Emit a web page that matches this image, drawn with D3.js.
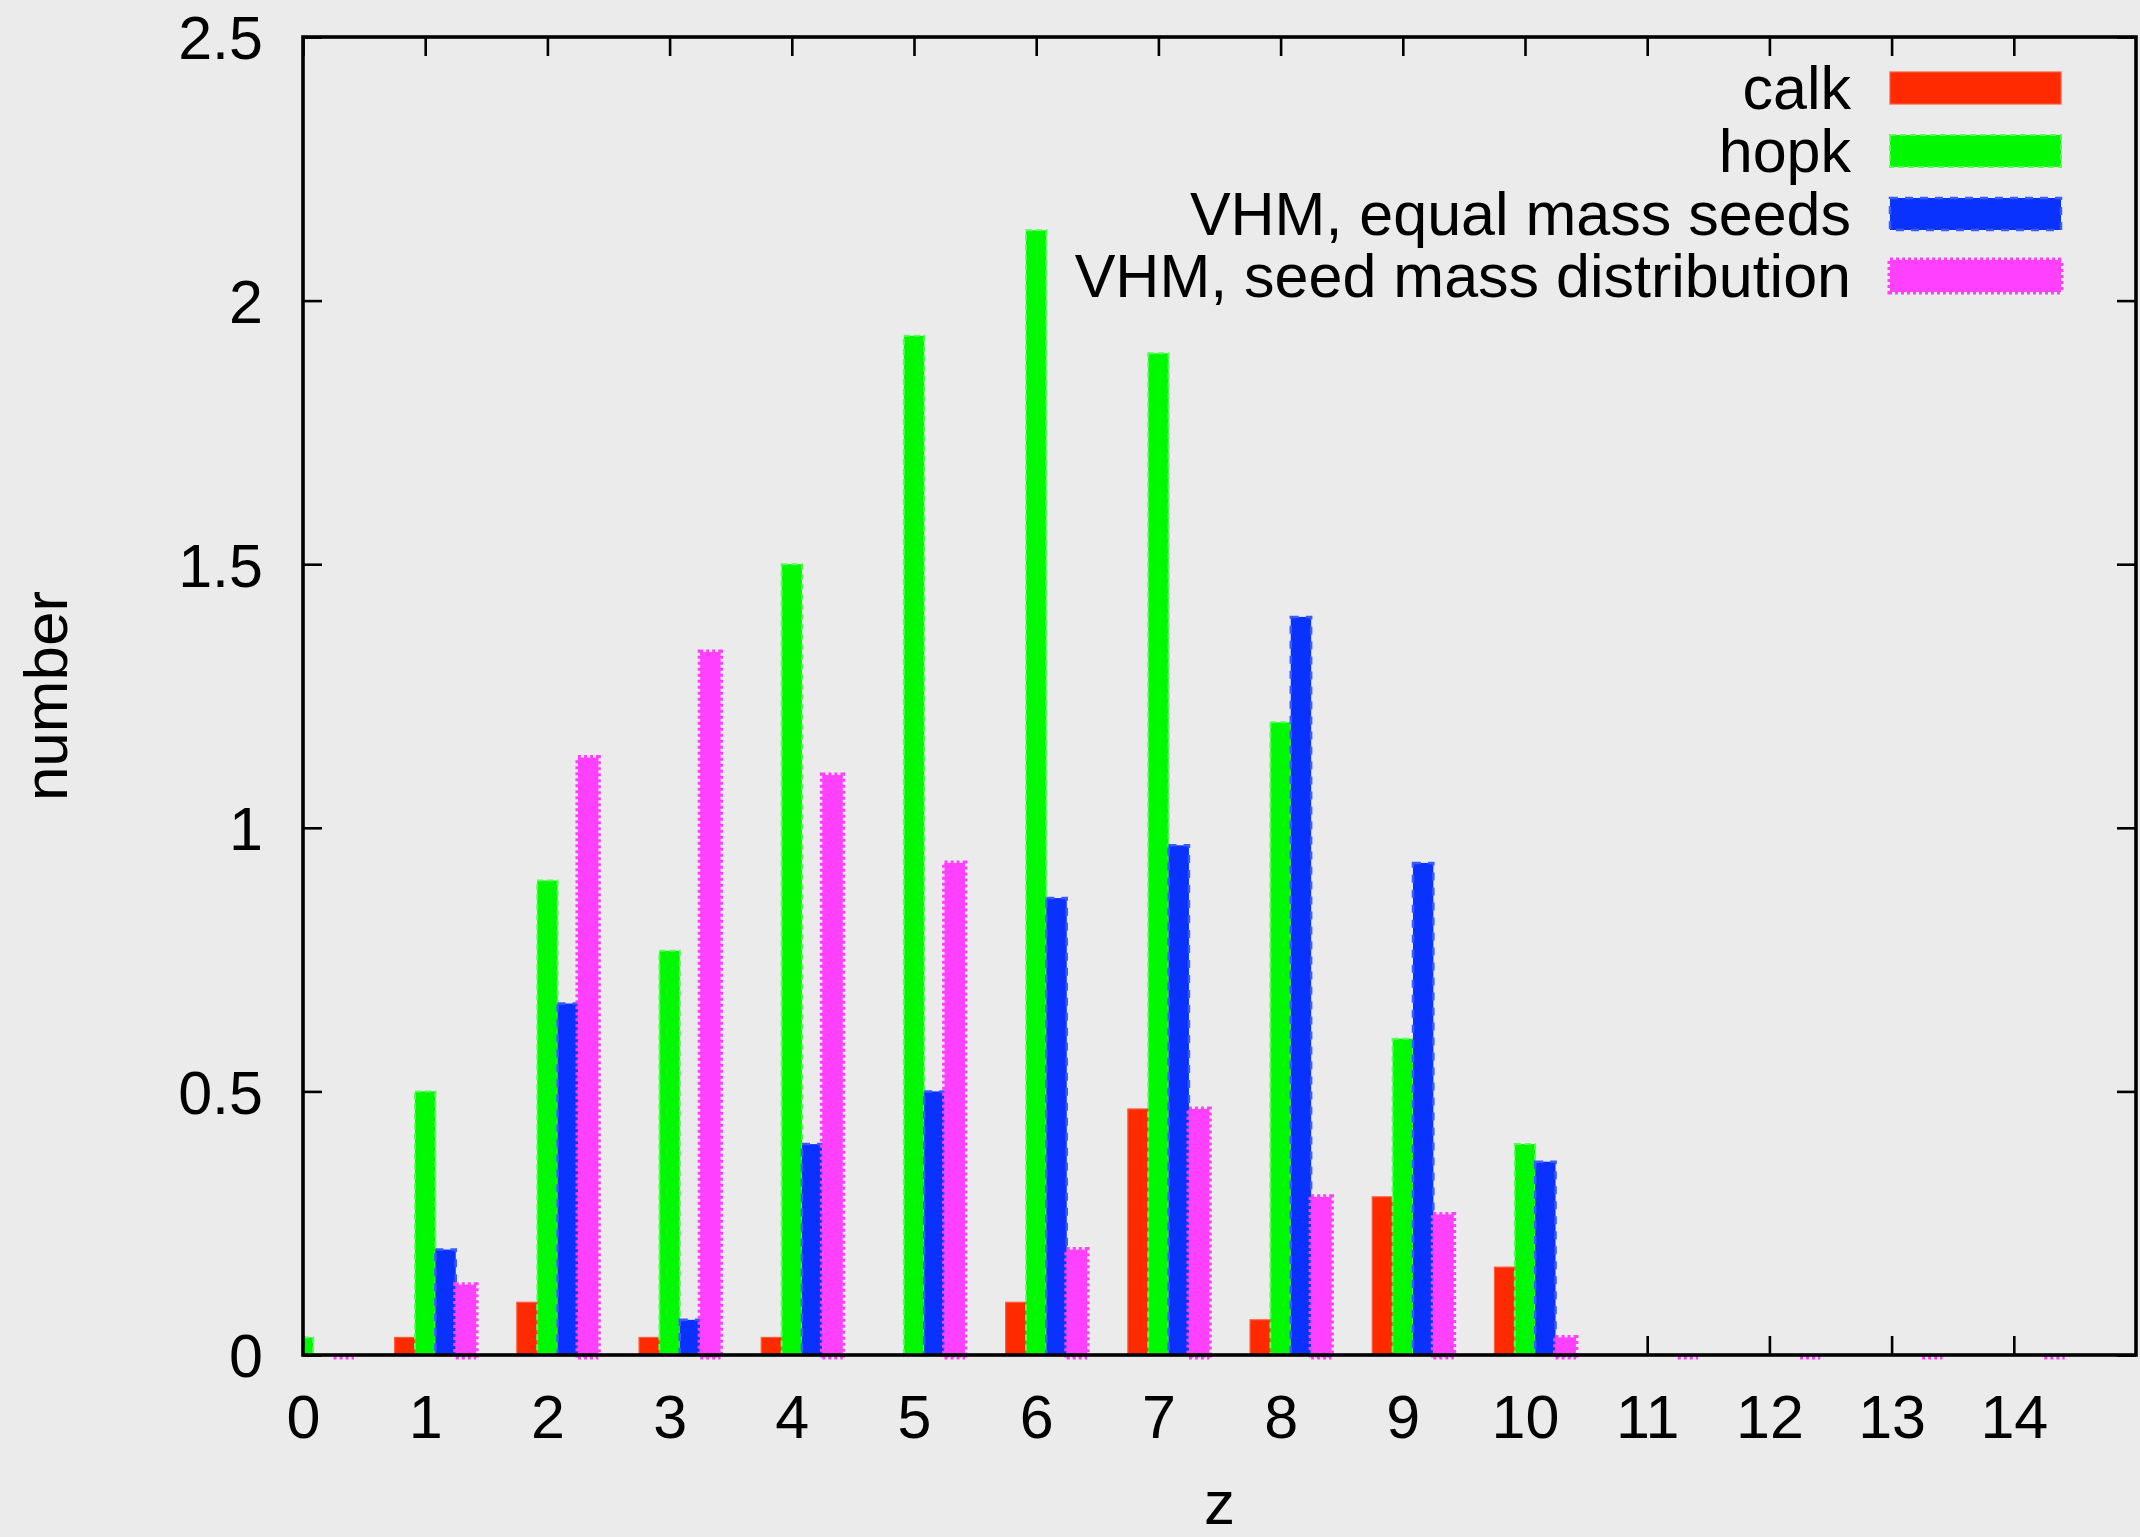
<!DOCTYPE html>
<html>
<head>
<meta charset="utf-8">
<script src="https://cdn.jsdelivr.net/npm/d3@7"></script>
<style>
  html, body { margin: 0; padding: 0; background: #ebebeb; }
  svg { display: block; }
  text { font-family: "Liberation Sans", Arial, Helvetica, sans-serif; fill: #000; }
</style>
</head>
<body>
<svg id="chart" width="2140" height="1537"></svg>
<script>
// ---- data ----
const zValues = [0, 1, 2, 3, 4, 5, 6, 7, 8, 9, 10, 11, 12, 13, 14];
const calk     = [0, 0.0333, 0.1, 0.0333, 0.0333, 0, 0.1, 0.4667, 0.0667, 0.3, 0.1667, 0, 0, 0, 0];
const hopk     = [0.0333, 0.5, 0.9, 0.7667, 1.5, 1.9333, 2.1333, 1.9, 1.2, 0.6, 0.4, 0, 0, 0, 0];
const vhmEqual = [0, 0.2, 0.6667, 0.0667, 0.4, 0.5, 0.8667, 0.9667, 1.4, 0.9333, 0.3667, 0, 0, 0, 0];
const vhmSeed  = [0, 0.1333, 1.1333, 1.3333, 1.1, 0.9333, 0.2, 0.4667, 0.3, 0.2667, 0.0333, 0, 0, 0, 0];
const seriesNames = ["calk", "hopk", "VHM, equal mass seeds", "VHM, seed mass distribution"];
const xTickValues = [0, 1, 2, 3, 4, 5, 6, 7, 8, 9, 10, 11, 12, 13, 14];
const yTickValues = [0, 0.5, 1, 1.5, 2, 2.5];
const xLabel = "z";
const yLabel = "number";

// ---- layout / style ----
const L = 303, R = 2136, T = 37, B = 1355;
const styles = [
  { fill: "#ff2a00", stroke: "#ff5a3a", sw: 1.2, dash: null },
  { fill: "#00f800", stroke: "#55ff55", sw: 2, dash: "6,4" },
  { fill: "#0a32ff", stroke: "#3a5cff", sw: 2.5, dash: "8,7" },
  { fill: "#ff40ff", stroke: "#ff40ff", sw: 5, dash: "3,3" }
];
const offsets = [-0.25, -1/12, 1/12, 0.25];   // left edge of each bar relative to z
const barW = 1/6;

const svg = d3.select("#chart");
const x = d3.scaleLinear().domain([0, 15]).range([L, R]);
const y = d3.scaleLinear().domain([0, 2.5]).range([B, T]);

const fmtY = d => d3.format("")(d);

// axes (ticks inward)
const gx = svg.append("g").attr("transform", `translate(0,${B})`)
  .call(d3.axisBottom(x).tickValues(xTickValues).tickSize(-19).tickPadding(40).tickFormat(d3.format("d")));
const gxt = svg.append("g").attr("transform", `translate(0,${T})`)
  .call(d3.axisTop(x).tickValues(xTickValues).tickSize(-19).tickFormat(""));
const gy = svg.append("g").attr("transform", `translate(${L},0)`)
  .call(d3.axisLeft(y).tickValues(yTickValues).tickSize(-19).tickPadding(40).tickFormat(fmtY));
const gyr = svg.append("g").attr("transform", `translate(${R},0)`)
  .call(d3.axisRight(y).tickValues(yTickValues).tickSize(-19).tickFormat(""));
[gx, gxt, gy, gyr].forEach(g => {
  g.select(".domain").remove();
  g.selectAll(".tick line").attr("stroke", "#000").attr("stroke-width", 2.6);
  g.selectAll(".tick text").attr("font-size", 61).attr("font-family", '"Liberation Sans", Arial, sans-serif').attr("fill", "#000");
});
gy.selectAll(".tick text").attr("dy", "0.36em");

// bars
const allSeries = [calk, hopk, vhmEqual, vhmSeed];
svg.append("defs").append("clipPath").attr("id", "plotclip")
  .append("rect").attr("x", L).attr("y", T - 10).attr("width", R - L).attr("height", B - T + 20);
const gBars = svg.append("g").attr("clip-path", "url(#plotclip)");
allSeries.forEach((vals, si) => {
  const st = styles[si];
  const data = zValues.map((z, i) => ({ z, v: vals[i] }));
  gBars.append("g").selectAll("rect")
    .data(data.filter(d => d.v > 0))
    .join("rect")
    .attr("x", d => x(d.z + offsets[si]))
    .attr("width", d => x(d.z + offsets[si] + barW) - x(d.z + offsets[si]))
    .attr("y", d => y(d.v))
    .attr("height", d => y(0) - y(d.v))
    .attr("fill", st.fill)
    .attr("stroke", st.stroke)
    .attr("stroke-width", st.sw)
    .attr("stroke-dasharray", st.dash);
  if (si === 3) {
    // dotted outline of pink bars showing along the baseline
    gBars.append("g").selectAll("line")
      .data(data)
      .join("line")
      .attr("x1", d => x(d.z + offsets[si]))
      .attr("x2", d => x(d.z + offsets[si] + barW))
      .attr("y1", y(0) + 2).attr("y2", y(0) + 2)
      .attr("stroke", st.stroke).attr("stroke-width", 5).attr("stroke-dasharray", "3,3");
  }
});

// frame
svg.append("rect").attr("x", L).attr("y", T).attr("width", R - L).attr("height", B - T)
  .attr("fill", "none").attr("stroke", "#000").attr("stroke-width", 3.6);

// axis labels
svg.append("text").attr("x", (L + R) / 2).attr("y", 1524).attr("text-anchor", "middle")
  .attr("font-size", 62).text(xLabel);
svg.append("text").attr("transform", `translate(67,${(T + B) / 2}) rotate(-90)`)
  .attr("text-anchor", "middle").attr("font-size", 62).text(yLabel);

// legend
const legY = [88, 151, 214, 276];
const lg = svg.append("g");
seriesNames.forEach((name, i) => {
  const st = styles[i];
  lg.append("text").attr("x", 1851).attr("y", legY[i] + 21).attr("text-anchor", "end")
    .attr("font-size", 61).text(name);
  lg.append("rect").attr("x", 1890).attr("y", legY[i] - 16).attr("width", 171).attr("height", 32)
    .attr("fill", st.fill).attr("stroke", st.stroke).attr("stroke-width", st.sw)
    .attr("stroke-dasharray", st.dash);
});
</script>
</body>
</html>
